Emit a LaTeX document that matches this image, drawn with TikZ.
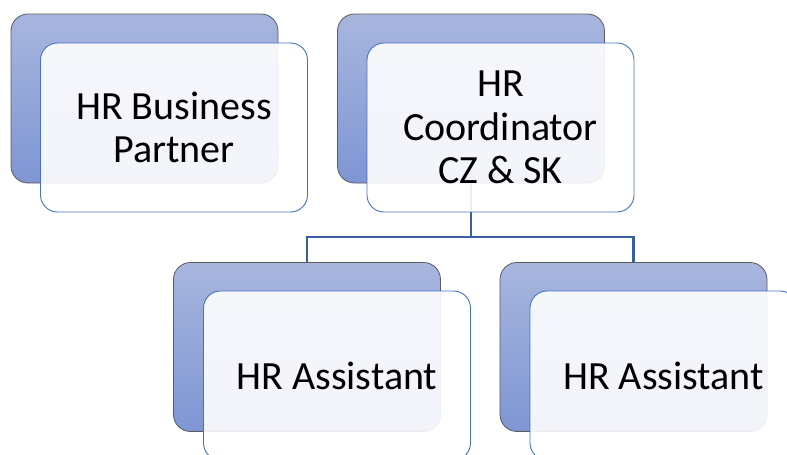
\documentclass[tikz,border=0pt]{standalone}
\usepackage{fontspec}
\setmainfont{Carlito}
\definecolor{backtop}{RGB}{168,182,222}
\definecolor{backbot}{RGB}{126,150,211}
\definecolor{backedge}{RGB}{90,90,95}
\definecolor{frontedge}{RGB}{68,114,196}
\definecolor{linkcol}{RGB}{58,94,160}
\begin{document}
\begin{tikzpicture}[x=1pt,y=-1pt,
  backbox/.style={draw=backedge, line width=0.8pt, rounded corners=17pt,
    minimum width=267pt, minimum height=169pt, inner sep=0pt,
    top color=backtop, bottom color=backbot, shading angle=0},
  frontbox/.style={draw=frontedge, line width=0.9pt, rounded corners=17pt,
    fill=white, fill opacity=0.9, text opacity=1,
    minimum width=267pt, minimum height=169pt, inner sep=0pt, align=center,
    font=\fontsize{40}{43.5}\selectfont},
  link/.style={draw=linkcol, line width=2.4pt}]
\useasboundingbox (0,0) rectangle (787,455);
\clip (0,0) rectangle (787,455);
% back boxes
\node[backbox] (b1) at (144.5,98.5) {};
\node[backbox] (b2) at (471,98.5) {};
\node[backbox] (b3) at (307,347) {};
\node[backbox] (b4) at (633.5,347) {};
% connectors
\coordinate (j) at (471,237);
\draw[link] (b2.south) -- (j) -| (b3.north);
\draw[link] (j) -| (b4.north);
% front boxes
\node[frontbox] (f1) at (174,127.5) {HR Business\\Partner};
\node[frontbox] (f2) at (500.5,127.5) {HR\\Coordinator\\CZ \& SK};
\node[frontbox] (f3) at (337,375.5) {HR Assistant};
\node[frontbox] (f4) at (663.5,375.5) {HR Assistant};
\end{tikzpicture}
\end{document}
